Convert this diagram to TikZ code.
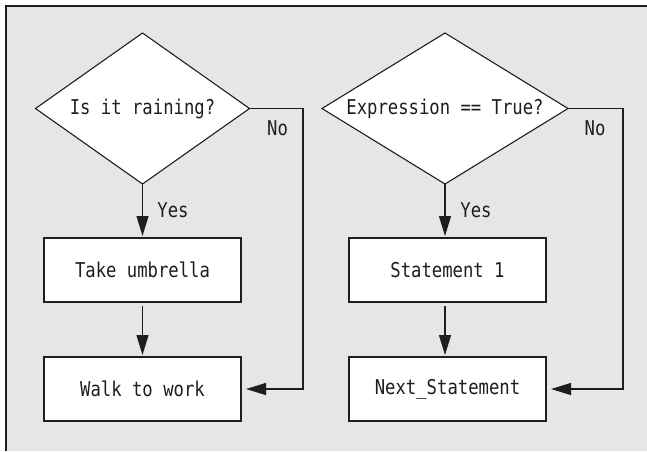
\documentclass[tikz,border=0pt]{standalone}
\usepackage{fontspec}
\setmonofont[FakeStretch=0.845]{DejaVu Sans Mono}
\usetikzlibrary{shapes.geometric,arrows.meta}
\definecolor{bg}{HTML}{E6E6E6}
\definecolor{ink}{HTML}{1E1E1E}
\tikzset{
  lbl/.style={font=\ttfamily\fontsize{20.4}{24}\selectfont, text=ink},
  decision/.style={diamond, aspect=2, draw=ink, fill=white, line width=1.1pt, inner sep=0pt, outer sep=0pt, lbl},
  procbox/.style={rectangle, draw=ink, fill=white, line width=1.1pt, minimum width=197pt, minimum height=64pt, inner sep=0pt, outer sep=0pt, lbl},
  arr/.style={draw=ink, line width=1.1pt, -{Triangle[length=20pt,width=12pt]}},
  tag/.style={lbl, inner sep=0pt}
}
\begin{document}
\begin{tikzpicture}[x=1pt,y=-1pt]
\useasboundingbox (0,0) rectangle (647,451);
\fill[bg] (6,6) rectangle (647,451);
\draw[ink, line width=1.3pt] (6,451) -- (6,6) -- (647,6);

% left flow
\node[decision, minimum width=214pt, minimum height=151pt] (d1) at (142.5,108.5) {Is it raining?};
\node[procbox] (b1) at (142.5,270) {Take umbrella};
\node[procbox] (b2) at (142.5,389) {Walk to work};
\coordinate (c1) at (303,108.5);
\draw[arr, shorten >=2pt] (d1.south) -- (b1.north);
\draw[arr, shorten <=4pt, shorten >=2pt] (b1.south) -- (b2.north);
\draw[arr, shorten >=5pt] (d1.east) -- (c1) |- (b2.east);
\node[tag] (y1) at (173,210) {Yes};
\node[tag] (n1) at (277.5,128.5) {No};

% right flow
\node[decision, minimum width=246pt, minimum height=151pt] (d2) at (445,108.5) {Expression == True?};
\node[procbox] (b3) at (447.5,270) {Statement 1};
\node[procbox] (b4) at (447.5,389) {Next\_Statement};
\coordinate (c2) at (623,108.5);
\draw[arr, shorten >=2pt] (d2.south) -- (d2.south |- b3.north);
\draw[arr, shorten <=4pt, shorten >=2pt] (d2.south |- b3.south) -- (d2.south |- b4.north);
\draw[arr, shorten >=5pt] (d2.east) -- (c2) |- (b4.east);
\node[tag] (y2) at (476,210) {Yes};
\node[tag] (n2) at (595,128.5) {No};
\end{tikzpicture}
\end{document}
